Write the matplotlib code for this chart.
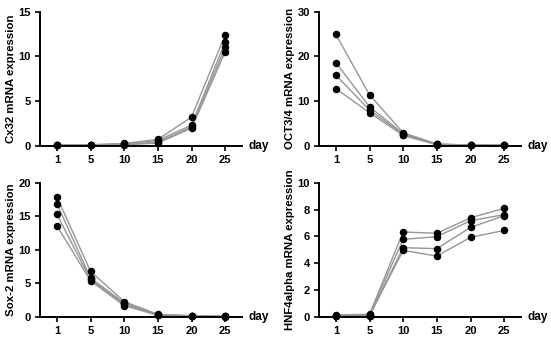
import numpy as np
import matplotlib.pyplot as plt

plt.rcParams['font.family'] = ['Liberation Sans', 'DejaVu Sans']

days = ["1", "5", "10", "15", "20", "25"]

# four replicates per gene, values per day
cx32 = [
    [0.05, 0.10, 0.25, 0.70, 3.20, 12.4],
    [0.05, 0.10, 0.20, 0.60, 2.30, 11.6],
    [0.05, 0.08, 0.15, 0.40, 2.10, 11.0],
    [0.05, 0.08, 0.10, 0.30, 1.95, 10.5],
]
oct34 = [
    [24.9, 11.4, 2.9, 0.40, 0.15, 0.10],
    [18.6, 8.7, 2.7, 0.30, 0.15, 0.10],
    [15.8, 8.0, 2.5, 0.30, 0.12, 0.08],
    [12.8, 7.4, 2.3, 0.20, 0.10, 0.05],
]
sox2 = [
    [17.9, 6.8, 2.3, 0.40, 0.20, 0.10],
    [16.9, 5.8, 2.1, 0.35, 0.15, 0.10],
    [15.3, 5.6, 1.9, 0.30, 0.15, 0.08],
    [13.6, 5.4, 1.7, 0.25, 0.10, 0.05],
]
hnf4a = [
    [0.15, 0.20, 6.33, 6.23, 7.39, 8.09],
    [0.10, 0.15, 5.78, 5.98, 7.17, 7.62],
    [0.05, 0.10, 5.16, 5.09, 6.67, 7.54],
    [0.05, 0.10, 4.96, 4.54, 5.93, 6.45],
]

panels = [
    (cx32, "Cx32 mRNA expression", 15, [0, 5, 10, 15]),
    (oct34, "OCT3/4 mRNA expression", 30, [0, 10, 20, 30]),
    (sox2, "Sox-2 mRNA expression", 20, [0, 5, 10, 15, 20]),
    (hnf4a, "HNF4alpha mRNA expression", 10, [0, 2, 4, 6, 8, 10]),
]

W, H = 551, 340
fig = plt.figure(figsize=(W / 100, H / 100), dpi=100)

# axes boxes in pixels: (left, top, right, bottom)
boxes = [(40, 11.7, 242, 145.7), (319, 11.7, 521, 145.7),
         (40, 182.7, 242, 317), (319, 182.7, 521, 317)]

x = np.arange(len(days))
for (data, ylabel, ymax, yticks), (l, t, r, b) in zip(panels, boxes):
    ax = fig.add_axes([l / W, 1 - b / H, (r - l) / W, (b - t) / H])
    for series in data:
        ax.plot(x, series, color="#969696", lw=1.0, zorder=2)
        ax.plot(x, series, "o", color="black", ms=4.4, zorder=3, clip_on=False)
    ax.set_xlim(-0.5, 5.5)
    ax.set_ylim(0, ymax)
    ax.set_xticks(x)
    ax.set_xticklabels(days)
    ax.set_yticks(yticks)
    for side in ["top", "right"]:
        ax.spines[side].set_visible(False)
    for side in ["left", "bottom"]:
        ax.spines[side].set_linewidth(1.4)
    ax.tick_params(width=1.2, length=3.5, labelsize=8, pad=3)
    for lab in ax.get_xticklabels() + ax.get_yticklabels():
        lab.set_fontweight("bold")
    ax.set_ylabel(ylabel, fontsize=8.2, fontweight="bold", labelpad=2)
    ax.text(1.03, 0, "day", transform=ax.transAxes, fontsize=8.5,
            fontweight="bold", va="center", ha="left")

fig.savefig("out.png", dpi=100)
